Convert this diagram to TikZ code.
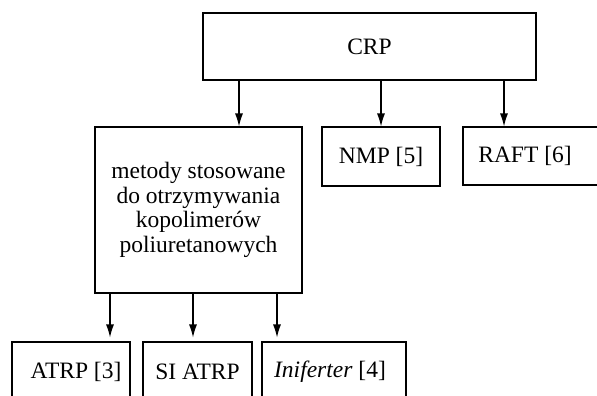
\documentclass[tikz,border=0pt]{standalone}
\usepackage{fontspec}
\setmainfont{Liberation Serif}
\usetikzlibrary{arrows.meta}
\begin{document}
\begin{tikzpicture}[x=1pt, y=-1pt, line width=1.1pt,
  every node/.style={font=\fontsize{23.5}{24.5}\selectfont},
  crpbox/.style={draw,inner sep=0pt},
  arr/.style={-{Latex[length=13pt,width=8pt]}}]
\useasboundingbox (0,0) rectangle (597,396);
\clip (0,0) rectangle (597,396);
\node[crpbox,minimum width=333pt,minimum height=67pt] (crp) at (369.5,46.5) {CRP};
\node[crpbox,align=center,minimum width=207pt,minimum height=166pt] (met) at (198.5,210) {metody stosowane\\do otrzymywania\\kopolimerów\\poliuretanowych};
\node[crpbox,minimum width=118pt,minimum height=59pt] (nmp) at (381,156.5) {NMP [5]};
\node[crpbox,minimum width=157pt,minimum height=58pt] (raft) at (541.5,156) {RAFT [6]\hspace*{33pt}};
\node[crpbox,minimum width=118pt,minimum height=59pt] (atrp) at (71,371.5) {\hspace*{10pt}ATRP [3]};
\node[crpbox,minimum width=109pt,minimum height=59pt] (siatrp) at (197.5,371.5) {SI ATRP};
\node[crpbox,minimum width=144pt,minimum height=59pt] (ini) at (334,371.5) {\textit{Iniferter} [4]\hspace*{8pt}};
\coordinate (a1) at ([xshift=40.5pt]met.north); \coordinate (a3) at ([xshift=-37.5pt]raft.north);
\draw[arr] (a1 |- crp.south) -- (a1); \draw[arr] (nmp.north |- crp.south) -- (nmp.north); \draw[arr] (a3 |- crp.south) -- (a3);
\coordinate (b1) at ([xshift=39pt]atrp.north); \coordinate (b2) at ([xshift=-4.5pt]siatrp.north); \coordinate (b3) at ([xshift=-57pt]ini.north);
\draw[arr,shorten >=4pt] (b1 |- met.south) -- (b1); \draw[arr,shorten >=4pt] (b2 |- met.south) -- (b2); \draw[arr,shorten >=4pt] (b3 |- met.south) -- (b3);
\end{tikzpicture}
\end{document}
